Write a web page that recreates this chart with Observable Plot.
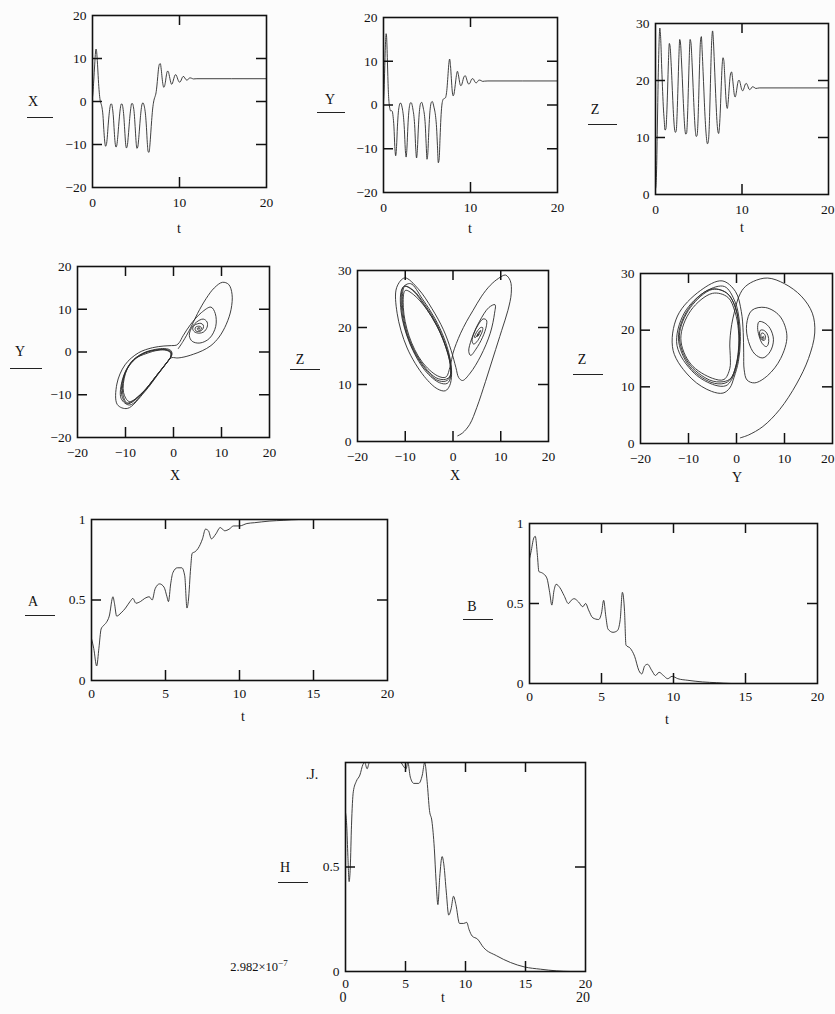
<!DOCTYPE html>
<html><head><meta charset="utf-8">
<script src="https://cdn.jsdelivr.net/npm/d3@7"></script>
<script src="https://cdn.jsdelivr.net/npm/@observablehq/plot@0.6"></script>
<style>
html,body{margin:0;padding:0;background:#fff;}
#page{position:relative;width:835px;height:1014px;overflow:hidden;background:#fcfcfc;font-family:"Liberation Serif","Times New Roman",serif;color:#111;}
.lab{position:absolute;font-size:14px;line-height:1;transform:translate(-50%,-50%);white-space:nowrap;}
.ul{position:absolute;height:0;border-top:1.3px solid #222;}
sup{font-size:9px;}
</style></head><body><div id="page"></div>
<script>
// ---------- DATA ----------
const tXYZ = [0,0.05,0.1,0.15,0.2,0.25,0.3,0.35,0.4,0.45,0.5,0.55,0.6,0.65,0.7,0.75,0.8,0.85,0.9,
 1.0,1.1,1.2,1.3,1.4,1.5,1.6,1.7,1.8,1.9,
 2.0,2.1,2.2,2.3,2.4,2.5,2.6,2.7,2.8,2.9,
 3.0,3.1,3.2,3.3,3.4,3.5,3.6,3.7,3.8,3.9,
 4.0,4.1,4.2,4.3,4.4,4.5,4.6,4.7,4.8,4.9,
 5.0,5.1,5.2,5.3,5.4,5.5,5.6,5.7,5.8,5.9,
 6.0,6.1,6.2,6.3,6.4,6.5,6.6,6.7,6.8,6.9,
 7.0,7.1,7.2,7.3,7.4,7.5,7.6,7.7,7.8,7.9,
 8.0,8.1,8.2,8.3,8.4,8.5,8.6,8.7,8.8,8.9,
 9.0,9.1,9.2,9.3,9.4,9.5,9.6,9.7,9.8,9.9,
 10.0,10.1,10.2,10.3,10.4,10.5,10.6,10.7,10.8,10.9,
 11.0,11.2,11.4,11.6,12,20];
const X = [1.0,2.0,3.5,5.0,6.8,8.5,10.2,11.5,12.2,12.0,11.0,9.5,7.8,6.0,4.2,2.8,1.6,0.7,0.0,
 -0.6,-1.5,-3.2,-6.5,-9.2,-10.4,-10.0,-8.3,-5.5,-3.2,
 -1.5,-0.6,-0.6,-1.6,-3.6,-6.9,-9.6,-10.6,-10.1,-8.3,
 -5.8,-3.4,-1.6,-0.6,-0.6,-1.5,-3.4,-6.6,-9.6,-10.8,
 -10.3,-8.4,-5.9,-3.4,-1.6,-0.5,-0.5,-1.2,-2.8,-5.8,
 -9.1,-10.9,-10.6,-8.9,-6.4,-3.8,-1.8,-0.6,-0.3,-0.7,
 -1.6,-3.2,-6.0,-9.6,-11.7,-11.8,-10.1,-7.3,-4.4,-2.0,
 -0.4,0.6,1.2,2.0,3.6,5.8,7.8,8.7,8.8,7.5,
 5.5,3.9,3.3,3.7,4.8,6.2,7.0,7.0,6.3,5.3,
 4.4,4.0,4.3,5.0,5.7,6.2,6.2,5.8,5.2,4.7,
 4.5,4.6,5.0,5.5,5.8,5.8,5.5,5.2,5.0,5.0,
 5.2,5.5,5.4,5.25,5.3,5.3];
const Y = [0.8,2.5,5.5,9.0,12.5,15.0,16.3,15.8,13.5,10.0,6.5,3.5,1.5,0.3,-0.5,-1.0,-1.3,-1.4,-1.3,
 -1.4,-2.6,-5.0,-9.5,-11.6,-9.5,-5.0,-1.8,-0.3,0.4,
 0.4,-0.2,-1.2,-2.8,-5.6,-10.0,-11.9,-9.6,-5.0,-1.8,
 -0.1,0.5,0.5,-0.1,-1.2,-2.6,-5.3,-9.8,-12.1,-10.0,
 -5.5,-2.1,-0.2,0.5,0.6,0.0,-1.0,-2.2,-4.5,-8.8,
 -12.4,-10.9,-6.3,-2.5,-0.3,0.6,0.8,0.4,-0.5,-1.4,
 -2.8,-5.2,-9.3,-13.2,-12.3,-7.5,-3.0,-0.2,1.0,1.4,
 1.5,1.6,2.2,3.8,6.5,9.2,10.5,9.0,6.0,3.2,
 2.1,2.5,3.8,5.5,7.0,7.7,7.0,5.8,4.7,4.4,
 4.7,5.4,6.2,6.6,6.7,6.3,5.6,5.0,4.8,4.9,
 5.3,5.8,6.0,6.0,5.7,5.3,5.1,5.1,5.3,5.6,
 5.7,5.6,5.4,5.45,5.5,5.5];
const Z = [1.0,1.5,3.0,6.0,10.5,15.0,19.5,23.0,26.0,28.2,29.2,28.6,27.4,25.5,23.0,21.0,19.0,17.2,15.5,
 13.2,11.3,11.5,14.0,18.5,23.5,26.5,25.8,23.2,20.0,
 16.5,13.5,11.5,10.9,11.2,14.2,19.0,24.0,27.2,26.4,
 23.6,20.3,16.8,13.7,11.4,10.6,10.8,13.6,18.6,23.8,
 27.2,26.6,24.0,20.6,17.0,13.7,11.3,10.2,10.3,12.4,
 17.3,23.0,26.9,27.7,25.0,21.6,18.0,14.5,11.7,9.8,
 8.9,9.2,11.4,16.4,22.5,27.0,28.7,26.8,23.3,19.6,
 16.0,13.0,11.2,10.7,12.0,15.0,19.0,22.5,24.0,23.5,
 21.0,18.0,15.8,15.1,16.2,18.3,20.3,21.3,21.5,20.5,
 19.0,17.6,17.1,17.5,18.5,19.5,20.0,20.0,19.5,18.8,
 18.3,18.2,18.5,19.0,19.4,19.5,19.3,18.9,18.5,18.4,
 18.5,18.9,18.8,18.6,18.7,18.7];

const tA = [0,0.15,0.35,0.5,0.65,0.8,1.0,1.2,1.45,1.55,1.7,2.0,2.3,2.6,2.8,3.0,3.3,3.6,3.9,4.1,4.3,4.6,4.9,5.1,5.2,5.35,5.5,5.8,6.1,6.3,6.45,6.55,6.7,6.8,7.0,7.2,7.5,7.7,7.9,8.1,8.4,8.7,9.0,9.3,9.6,10.0,10.5,11,12,13,14,20];
const A = [0.26,0.20,0.09,0.20,0.32,0.34,0.36,0.40,0.52,0.48,0.40,0.42,0.45,0.49,0.51,0.48,0.49,0.51,0.52,0.50,0.57,0.60,0.58,0.52,0.49,0.60,0.67,0.70,0.70,0.65,0.45,0.50,0.70,0.79,0.80,0.82,0.88,0.94,0.93,0.88,0.91,0.95,0.93,0.94,0.96,0.96,0.975,0.98,0.99,0.995,1.0,1.0];

const tB = [0,0.1,0.3,0.4,0.55,0.65,0.9,1.2,1.4,1.55,1.7,1.85,2.1,2.4,2.7,2.9,3.1,3.4,3.7,3.9,4.1,4.4,4.8,5.0,5.15,5.3,5.45,5.8,6.1,6.3,6.45,6.6,6.7,7.0,7.3,7.6,7.8,8.0,8.2,8.5,8.75,9.0,9.3,9.6,9.9,10.3,11,12,13,14,20];
const B = [0.78,0.82,0.91,0.92,0.80,0.70,0.69,0.66,0.57,0.49,0.58,0.62,0.60,0.55,0.50,0.52,0.53,0.51,0.48,0.50,0.46,0.41,0.40,0.44,0.52,0.42,0.34,0.32,0.33,0.40,0.57,0.45,0.24,0.22,0.17,0.08,0.06,0.11,0.12,0.08,0.05,0.07,0.05,0.03,0.045,0.03,0.02,0.01,0.005,0.0,0.0];

const tH = [0,0.1,0.2,0.3,0.4,0.5,0.65,0.9,1.2,1.45,1.6,1.8,2.0,2.5,3,3.5,4,4.6,4.85,5.05,5.2,5.4,5.7,6.1,6.4,6.6,6.8,7.0,7.2,7.4,7.55,7.7,7.85,8.05,8.2,8.4,8.6,8.8,9.0,9.2,9.5,9.85,10.1,10.3,10.55,11,11.5,12.6,13.75,14.9,16.25,17.6,18.75,20];
const H = [0.76,0.70,0.55,0.43,0.50,0.70,0.86,0.91,0.94,0.99,1.0,0.97,1.0,1.0,1.0,1.0,1.0,1.0,0.98,0.97,1.0,0.93,0.90,0.90,0.94,1.0,0.91,0.77,0.72,0.59,0.43,0.32,0.45,0.55,0.51,0.38,0.27,0.30,0.36,0.32,0.23,0.23,0.235,0.20,0.17,0.155,0.115,0.075,0.043,0.022,0.011,0.003,0.0,0.0];

// tick label values
const ticksT = [0,10,20];
const ticksT5 = [0,5,10,15,20];
const ticks20 = [-20,-10,0,10,20];
const ticks30 = [0,10,20,30];
const ticks01 = [0,0.5,1];
const ticksH = [0,0.5];

// ---------- LAYOUT ----------
const page = document.getElementById("page");
const FONT = '"Liberation Serif", "Times New Roman", serif';
const fmt = d => d < 0 ? "\u2212" + Math.abs(d) : String(d);

const panels = [
 {box:[92,15,266,187],  xs:tXYZ, ys:X, xd:[0,20],   yd:[-20,20], xt:[10],      yt:[-10,0,10], xl:ticksT,  yl:ticks20, curve:"monotone-x", xdy:15},
 {box:[383,17,557,192], xs:tXYZ, ys:Y, xd:[0,20],   yd:[-20,20], xt:[10],      yt:[-10,0,10], xl:ticksT,  yl:ticks20, curve:"monotone-x", xdy:15},
 {box:[655,23,828,194], xs:tXYZ, ys:Z, xd:[0,20],   yd:[0,30],   xt:[10],      yt:[10,20],    xl:ticksT,  yl:ticks30, curve:"monotone-x", xdy:15, edge:true},
 {box:[77,266,269,437], xs:X,    ys:Y, xd:[-20,20], yd:[-20,20], xt:[-10,0,10], yt:[-10,0,10], xl:ticks20, yl:ticks20, curve:"catmull-rom", xdy:15},
 {box:[357,270,548,441],xs:X,    ys:Z, xd:[-20,20], yd:[0,30],   xt:[-10,0,10], yt:[10,20],    xl:ticks20, yl:ticks30, curve:"catmull-rom", xdy:15},
 {box:[640,273,832,443],xs:Y,    ys:Z, xd:[-20,20], yd:[0,30],   xt:[-10,0,10], yt:[10,20],    xl:ticks20, yl:ticks30, curve:"catmull-rom", xdy:15, edge:true},
 {box:[91,519,387,680], xs:tA,   ys:A, xd:[0,20],   yd:[0,1],    xt:[5,10,15], yt:[0.5],      xl:ticksT5, yl:ticks01, curve:"monotone-x", xdy:13},
 {box:[529,523,817,683],xs:tB,   ys:B, xd:[0,20],   yd:[0,1],    xt:[5,10,15], yt:[0.5],      xl:ticksT5, yl:ticks01, curve:"monotone-x", xdy:13},
 {box:[345,762,585,971],xs:tH,   ys:H, xd:[0,20],   yd:[0,1],    xt:[5,10,15], yt:[0.5],      xl:ticksT5, yl:ticksH,  curve:"monotone-x", xdy:12}
];

function makePanel(p) {
  const [L,T,R,Bt] = p.box;
  const mL = 48, mR = 14, mT = 10, mB = 28;
  const w = R - L, h = Bt - T;
  const data = p.xs.map((x, i) => ({x, y: p.ys[i]}));
  const tick = {stroke: "#111", strokeWidth: 1.5};
  const txt = {fontSize: 13.5, fontFamily: FONT, fill: "#111"};
  const xMax = p.xd[1];
  const inner = p.edge ? p.xl.filter(v => v !== xMax) : p.xl;
  const edgeLab = p.edge ? p.xl.filter(v => v === xMax) : [];
  const svg = Plot.plot({
    width: w + mL + mR, height: h + mT + mB,
    marginLeft: mL, marginRight: mR, marginTop: mT, marginBottom: mB,
    style: {background: "transparent", overflow: "visible", fontFamily: FONT, fontSize: "13.5px", color: "#111"},
    x: {domain: p.xd, axis: null},
    y: {domain: p.yd, axis: null},
    marks: [
      Plot.line(data, {x: "x", y: "y", stroke: "#2a2a2a", strokeWidth: 0.9, curve: p.curve, clip: true}),
      Plot.tickX(p.xt, {x: d => d, insetTop: h - 10, ...tick}),
      Plot.tickX(p.xt, {x: d => d, insetBottom: h - 10, ...tick}),
      Plot.tickY(p.yt, {y: d => d, insetRight: w - 10, ...tick}),
      Plot.tickY(p.yt, {y: d => d, insetLeft: w - 10, ...tick}),
      Plot.frame({stroke: "#111", strokeWidth: 1.6}),
      Plot.text(inner, {x: d => d, frameAnchor: "bottom", lineAnchor: "middle", dy: p.xdy, text: fmt, ...txt}),
      Plot.text(edgeLab, {x: d => d, frameAnchor: "bottom", lineAnchor: "middle", textAnchor: "end", dx: (835 - R) - 1, dy: p.xdy, text: fmt, ...txt}),
      Plot.text(p.yl, {y: d => d, frameAnchor: "left", textAnchor: "end", dx: -6, text: fmt, ...txt})
    ]
  });
  svg.style.position = "absolute";
  svg.style.left = (L - mL) + "px";
  svg.style.top = (T - mT) + "px";
  page.appendChild(svg);
}
panels.forEach(makePanel);

// variable names and axis titles
const labels = [
 ["X",33,102],["Y",330,100],["Z",595,110],["Y",20,352],["Z",300,360],["Z",582,360],["A",33,602],["B",472,607],["H",285,868],
 ["t",179,229],["t",470,229],["t",742,228],["X",175,476],["X",455,476],["Y",737,478],["t",243,717],["t",667,720],
 ["t",443,998],["0",343,998],["20",583,998],[".J.",312,775]
];
labels.forEach(([s,x,y]) => {
  const d = document.createElement("div");
  d.className = "lab"; d.textContent = s;
  d.style.left = x + "px"; d.style.top = y + "px";
  page.appendChild(d);
});
const unders = [[27,117,26],[317,112,28],[588,124,29],[10,368,32],[290,369,30],[573,374,30],[25,615,30],[463,619,30],[278,882,30]];
unders.forEach(([x,y,w]) => {
  const d = document.createElement("div");
  d.className = "ul";
  d.style.left = x + "px"; d.style.top = y + "px"; d.style.width = w + "px";
  page.appendChild(d);
});
const lim = document.createElement("div");
lim.className = "lab";
lim.style.fontSize = "12.5px";
lim.innerHTML = "2.982\u00d710<sup>\u22127</sup>";
lim.style.left = "259px"; lim.style.top = "966px";
page.appendChild(lim);
</script></body></html>
